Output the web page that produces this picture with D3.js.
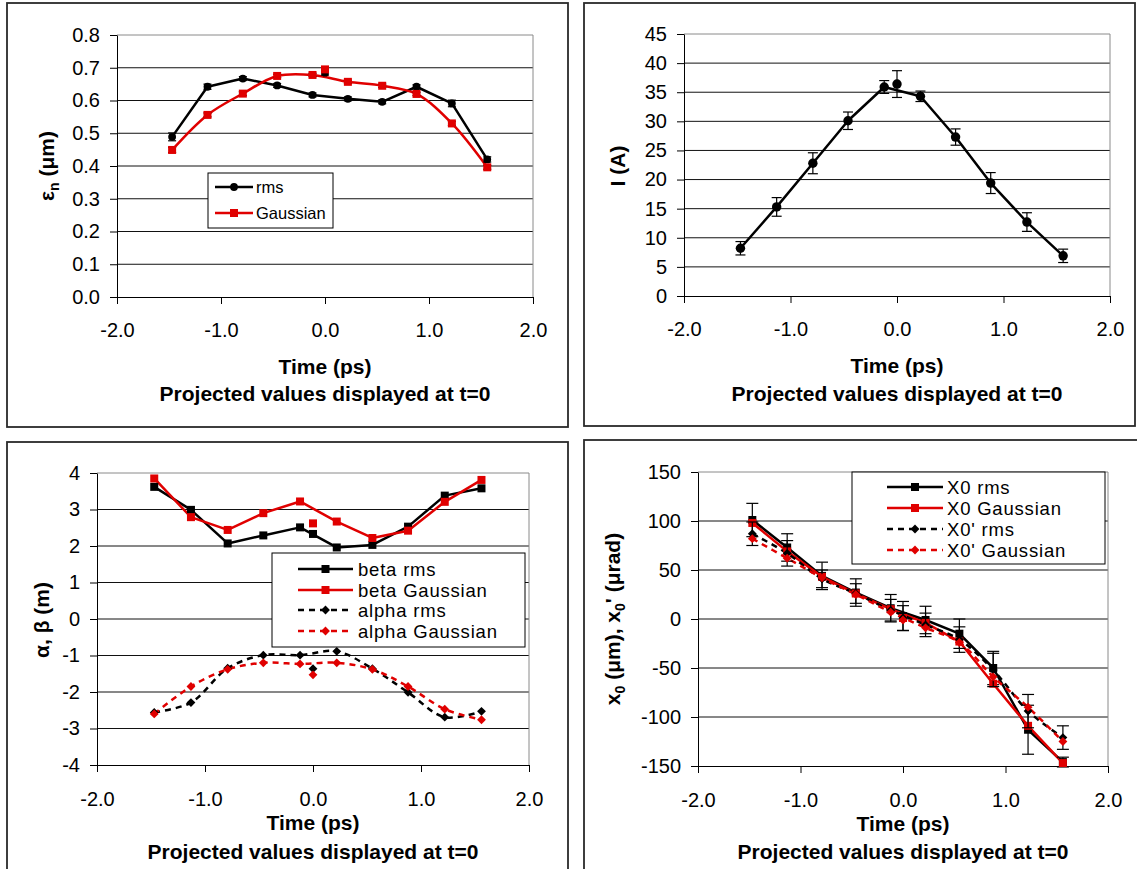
<!DOCTYPE html>
<html>
<head>
<meta charset="utf-8">
<script src="https://cdn.jsdelivr.net/npm/d3@7"></script>
<style>
  body { margin: 0; background: #fff; }
  svg text { font-family: "Liberation Sans", Arial, sans-serif; fill: #000; }
</style>
</head>
<body>
<svg id="fig" width="1137" height="869"></svg>
<script>
// ---- shared time axis ----
const timeTicks = [-2, -1, 0, 1, 2];
const times = [-1.47, -1.13, -0.79, -0.46, -0.12, 0.22, 0.55, 0.88, 1.22, 1.56];
const tProjected = 0.0;

// ---- normalised emittance (um) ----
const emitTicks = [0, 0.1, 0.2, 0.3, 0.4, 0.5, 0.6, 0.7, 0.8];
const emitRms = [0.489, 0.642, 0.667, 0.646, 0.617, 0.605, 0.596, 0.642, 0.591, 0.420];
const emitRmsErr = [0.012, 0.008, 0.006, 0.006, 0.006, 0.006, 0.006, 0.006, 0.010, 0.008];
const emitRmsProj = 0.685;
const emitGauss = [0.449, 0.556, 0.621, 0.675, 0.678, 0.657, 0.645, 0.620, 0.530, 0.396];
const emitGaussErr = [0.008, 0.006, 0.006, 0.005, 0.005, 0.005, 0.005, 0.005, 0.006, 0.006];
const emitGaussProj = 0.695;

// ---- slice current (A) ----
const currentTicks = [0, 5, 10, 15, 20, 25, 30, 35, 40, 45];
const current = [8.2, 15.3, 22.8, 30.1, 35.9, 34.3, 27.3, 19.4, 12.7, 6.9];
const currentErr = [1.15, 1.6, 1.8, 1.5, 1.1, 0.9, 1.4, 1.8, 1.6, 1.15];
const currentProj = 36.4;
const currentProjErr = 2.3;

// ---- Twiss parameters ----
const twissTicks = [-4, -3, -2, -1, 0, 1, 2, 3, 4];
const betaRms = [3.62, 2.99, 2.07, 2.29, 2.51, 1.96, 2.03, 2.53, 3.38, 3.58];
const betaRmsProj = 2.33;
const betaGauss = [3.85, 2.79, 2.44, 2.90, 3.22, 2.67, 2.22, 2.42, 3.21, 3.81];
const betaGaussProj = 2.62;
const alphaRms = [-2.56, -2.29, -1.35, -0.99, -0.99, -0.885, -1.36, -2.01, -2.69, -2.53];
const alphaRmsProj = -1.36;
const alphaGauss = [-2.60, -1.85, -1.38, -1.20, -1.23, -1.20, -1.38, -1.85, -2.47, -2.76];
const alphaGaussProj = -1.53;

// ---- centroid offset / angle ----
const centroidTicks = [-150, -100, -50, 0, 50, 100, 150];
const x0Rms = [101, 73, 44, 27, 11, -1, -15, -50, -113, -146];
const x0RmsErr = [17, 14, 14, 14, 14, 14, 15, 17, 25, 5];
const x0RmsProj = 3;
const x0Gauss = [98, 69, 43, 26, 10, -4, -23, -66, -109, -147];
const x0GaussProj = 1;
const xpRms = [87, 67, 41, 26, 9, -6, -21, -52, -94, -121];
const xpRmsErr = [12, 13, 9, 10, 11, 12, 13, 17, 17, 12];
const xpRmsProj = 1;
const xpGauss = [82, 62, 42, 25, 7, -9, -24, -59, -90, -125];
const xpGaussProj = -1;

const RED = "#e00000";
const BLACK = "#000";

const loc = d3.formatLocale({decimal: ".", thousands: ",", grouping: [3], currency: ["", ""], minus: "-"});
const fmt1 = loc.format(".1f");
const fmt0 = loc.format("d");

const svg = d3.select("#fig");

// marker shapes
const diamondType = {
  draw(ctx, size) {
    const r = Math.sqrt(size) / 2 * 1.25;
    ctx.moveTo(0, -r); ctx.lineTo(r, 0); ctx.lineTo(0, r); ctx.lineTo(-r, 0); ctx.closePath();
  }
};
function markerPath(kind, size) {
  const t = kind === "circle" ? d3.symbolCircle : kind === "square" ? d3.symbolSquare : diamondType;
  return d3.symbol().type(t).size(size)();
}

function drawPanel(cfg) {
  const g = svg.append("g");
  const p = cfg.plot;
  // outer frame
  g.append("rect")
    .attr("x", cfg.frame.x).attr("y", cfg.frame.y)
    .attr("width", cfg.frame.w).attr("height", cfg.frame.h)
    .attr("fill", "none").attr("stroke", "#2a2a2a").attr("stroke-width", 1.8);

  const x = d3.scaleLinear().domain([-2, 2]).range([p.l, p.r]);
  const y = d3.scaleLinear().domain([cfg.yTicks[0], cfg.yTicks[cfg.yTicks.length - 1]]).range([p.b, p.t]);

  // horizontal gridlines
  g.selectAll("line.grid").data(cfg.yTicks.slice(1, -1)).join("line")
    .attr("x1", p.l).attr("x2", p.r)
    .attr("y1", d => y(d)).attr("y2", d => y(d))
    .attr("stroke", "#111").attr("stroke-width", 1);
  // plot area border (top + right)
  g.append("path").attr("d", `M${p.l},${p.t}H${p.r}V${p.b}`)
    .attr("fill", "none").attr("stroke", "#8a8a8a").attr("stroke-width", 1);

  // axes
  const xa = g.append("g").attr("transform", `translate(0,${p.b})`)
    .call(d3.axisBottom(x).tickValues(timeTicks).tickFormat(fmt1)
      .tickSizeInner(7).tickSizeOuter(0).tickPadding(cfg.xPad));
  const ya = g.append("g").attr("transform", `translate(${p.l},0)`)
    .call(d3.axisLeft(y).tickValues(cfg.yTicks).tickFormat(cfg.yFormat)
      .tickSizeInner(7).tickSizeOuter(0).tickPadding(10));
  [xa, ya].forEach(a => {
    a.attr("font-family", null).attr("font-size", null);
    a.selectAll("path, line").attr("stroke", "#000").attr("stroke-width", 1);
    a.selectAll("text").attr("font-size", 20).attr("fill", "#000");
  });

  // axis titles
  const cx = (p.l + p.r) / 2;
  g.append("text").attr("x", cx).attr("y", cfg.titleY[0]).attr("dy", "0.36em")
    .attr("text-anchor", "middle").attr("font-weight", "bold").attr("font-size", 21)
    .text("Time (ps)");
  g.append("text").attr("x", cx).attr("y", cfg.titleY[1]).attr("dy", "0.36em")
    .attr("text-anchor", "middle").attr("font-weight", "bold").attr("font-size", 21)
    .text("Projected values displayed at t=0");
  const yt = g.append("text")
    .attr("transform", `translate(${cfg.yTitlePos[0]},${cfg.yTitlePos[1]}) rotate(-90)`)
    .attr("text-anchor", "middle").attr("dy", "0.36em")
    .attr("font-weight", "bold").attr("font-size", 21);
  cfg.yTitle.forEach(part => {
    const ts = yt.append("tspan").text(part.t);
    if (part.sub) ts.attr("font-size", 14).attr("dy", 5);
    if (part.after) ts.attr("dy", -5);
  });

  // data series: lines first, then error bars and markers on top
  cfg.series.forEach(s => {
    const line = d3.line()
      .x((d, i) => x(times[i]))
      .y(d => y(d))
      .curve(s.smooth ? d3.curveCatmullRom.alpha(0.5) : d3.curveLinear);
    g.append("path").datum(s.values)
      .attr("d", line)
      .attr("fill", "none").attr("stroke", s.color).attr("stroke-width", s.width || 2.5)
      .attr("stroke-dasharray", s.dash ? "6,5" : null)
      .attr("stroke-linejoin", "round");
  });
  cfg.series.forEach(s => {
    const pts = s.values.map((v, i) => ({t: times[i], v, e: s.err ? s.err[i] : 0}));
    pts.push({t: tProjected, v: s.proj, e: s.projErr != null ? s.projErr : (s.err ? d3.mean(s.err) : 0)});
    if (s.err) {
      const eb = g.append("g").attr("stroke", s.errColor || "#000").attr("stroke-width", 1.2);
      pts.forEach(d => {
        const xx = x(d.t), y1 = y(d.v - d.e), y2 = y(d.v + d.e);
        eb.append("line").attr("x1", xx).attr("x2", xx).attr("y1", y1).attr("y2", y2);
        eb.append("line").attr("x1", xx - s.cap).attr("x2", xx + s.cap).attr("y1", y1).attr("y2", y1);
        eb.append("line").attr("x1", xx - s.cap).attr("x2", xx + s.cap).attr("y1", y2).attr("y2", y2);
      });
    }
    g.selectAll(null).data(pts).join("path")
      .attr("transform", d => `translate(${x(d.t)},${y(d.v)})`)
      .attr("d", markerPath(s.marker, s.msize))
      .attr("fill", s.color);
  });

  // legend
  if (cfg.legend) {
    const L = cfg.legend;
    g.append("rect").attr("x", L.x).attr("y", L.y).attr("width", L.w).attr("height", L.h)
      .attr("fill", "#fff").attr("stroke", "#000").attr("stroke-width", 1);
    cfg.series.forEach((s, i) => {
      const ry = L.rows[i];
      g.append("line").attr("x1", L.s0).attr("x2", L.s1).attr("y1", ry).attr("y2", ry)
        .attr("stroke", s.color).attr("stroke-width", s.width || 2.5)
        .attr("stroke-dasharray", s.dash ? "6,5" : null);
      g.append("path").attr("transform", `translate(${(L.s0 + L.s1) / 2},${ry})`)
        .attr("d", markerPath(s.marker, s.msize)).attr("fill", s.color);
      g.append("text").attr("x", L.tx).attr("y", ry).attr("dy", "0.36em")
        .attr("font-size", L.fs).attr("letter-spacing", L.ls || 0).text(s.label);
    });
  }
}

// normalised emittance panel
drawPanel({
  frame: {x: 7, y: 3, w: 561, h: 424},
  plot: {l: 117, r: 533, t: 35, b: 297},
  yTicks: emitTicks, yFormat: fmt1, xPad: 19,
  titleY: [366, 393],
  yTitle: [{t: "ε"}, {t: "n", sub: true}, {t: " (μm)", after: true}],
  yTitlePos: [46, 166],
  series: [
    {label: "rms", values: emitRms, proj: emitRmsProj, err: emitRmsErr, cap: 4,
     color: BLACK, marker: "circle", msize: 48},
    {label: "Gaussian", values: emitGauss, proj: emitGaussProj, err: emitGaussErr, cap: 4,
     color: RED, marker: "square", msize: 64, smooth: true}
  ],
  legend: {x: 208, y: 173, w: 125, h: 55, rows: [187, 213], s0: 215, s1: 253, tx: 256, fs: 16.5}
});

// current panel
drawPanel({
  frame: {x: 584, y: 3, w: 551, h: 423},
  plot: {l: 684, r: 1110, t: 34, b: 296},
  yTicks: currentTicks, yFormat: fmt0, xPad: 19,
  titleY: [365, 393],
  yTitle: [{t: "I (A)"}],
  yTitlePos: [617, 166],
  series: [
    {label: "I", values: current, proj: currentProj, err: currentErr, projErr: currentProjErr, cap: 5,
     color: BLACK, marker: "circle", msize: 70}
  ]
});

// Twiss parameter panel
drawPanel({
  frame: {x: 7, y: 442, w: 561, h: 440},
  plot: {l: 97, r: 529, t: 473, b: 765},
  yTicks: twissTicks, yFormat: fmt0, xPad: 20,
  titleY: [822, 851],
  yTitle: [{t: "α, β (m)"}],
  yTitlePos: [41, 620],
  series: [
    {label: "beta rms", values: betaRms, proj: betaRmsProj, color: BLACK, marker: "square", msize: 64},
    {label: "beta Gaussian", values: betaGauss, proj: betaGaussProj, color: RED, marker: "square", msize: 64},
    {label: "alpha rms", values: alphaRms, proj: alphaRmsProj, color: BLACK, marker: "diamond", msize: 50,
     dash: true, smooth: true},
    {label: "alpha Gaussian", values: alphaGauss, proj: alphaGaussProj, color: RED, marker: "diamond", msize: 50,
     dash: true, smooth: true}
  ],
  legend: {x: 272, y: 553, w: 253, h: 94, rows: [569, 590, 610, 631], s0: 298, s1: 353, tx: 358, fs: 18.5, ls: 0.8}
});

// centroid panel
drawPanel({
  frame: {x: 584, y: 440, w: 560, h: 440},
  plot: {l: 698, r: 1108, t: 472, b: 766},
  yTicks: centroidTicks, yFormat: fmt0, xPad: 20,
  titleY: [823, 851],
  yTitle: [{t: "x"}, {t: "0", sub: true}, {t: " (μm), x", after: true}, {t: "0", sub: true}, {t: "' (μrad)", after: true}],
  yTitlePos: [612, 619],
  series: [
    {label: "X0 rms", values: x0Rms, proj: x0RmsProj, err: x0RmsErr, cap: 6,
     color: BLACK, marker: "square", msize: 64},
    {label: "X0 Gaussian", values: x0Gauss, proj: x0GaussProj, color: RED, marker: "square", msize: 64},
    {label: "X0' rms", values: xpRms, proj: xpRmsProj, err: xpRmsErr, cap: 6,
     color: BLACK, marker: "diamond", msize: 50, dash: true, smooth: true},
    {label: "X0' Gaussian", values: xpGauss, proj: xpGaussProj, color: RED, marker: "diamond", msize: 50,
     dash: true, smooth: true}
  ],
  legend: {x: 852, y: 472, w: 253, h: 92, rows: [487, 508, 529, 550], s0: 887, s1: 943, tx: 947, fs: 18.5, ls: 0.8}
});
</script>
</body>
</html>
